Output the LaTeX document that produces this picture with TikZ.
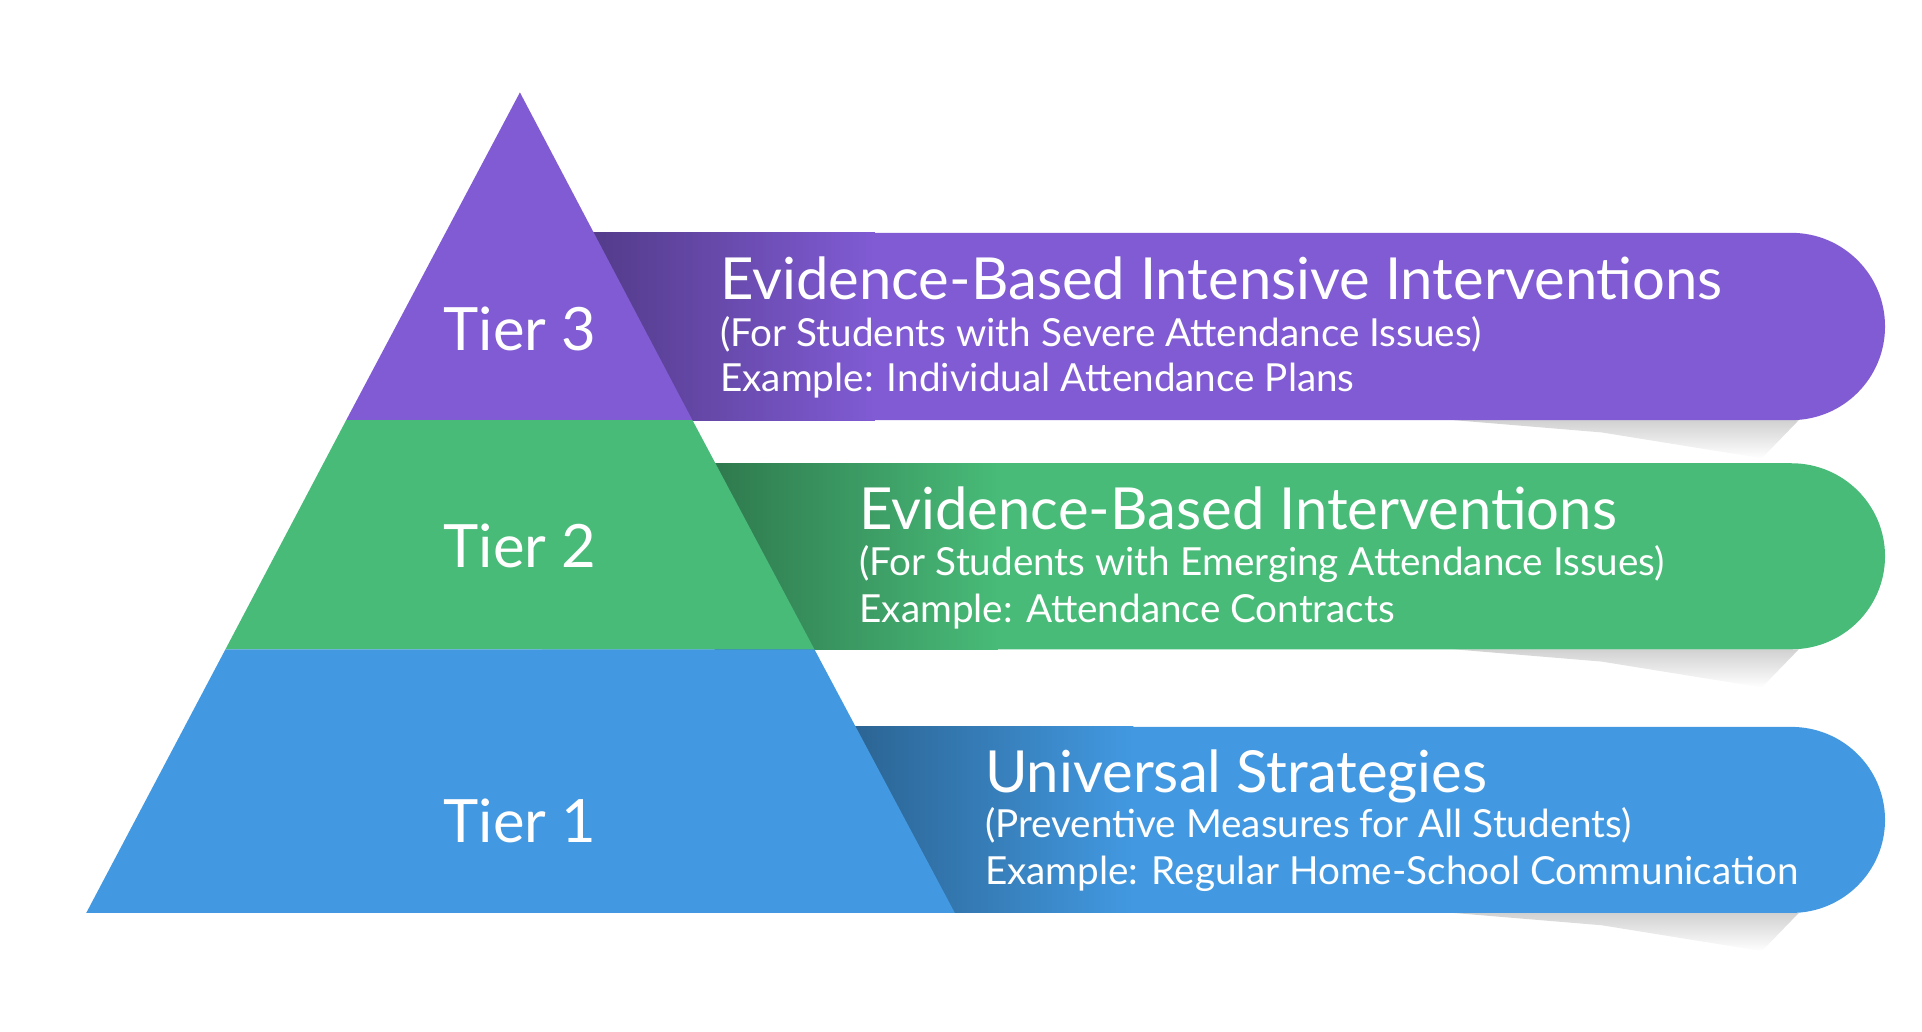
\documentclass[tikz,border=0pt]{standalone}
\usepackage{fontspec}
\setmainfont{Lato}
\usetikzlibrary{positioning}
\definecolor{tpurple}{HTML}{805BD4}
\definecolor{tgreen}{HTML}{48BB78}
\definecolor{tblue}{HTML}{4299E1}
\tikzset{
  tier/.style={text=white,font=\fontsize{17}{20}\selectfont,anchor=center},
  head/.style={text=white,font=\fontsize{16.5}{19}\selectfont,anchor=base west,inner sep=0pt},
  sub/.style={text=white,font=\fontsize{11}{13}\selectfont,anchor=base west,inner sep=0pt},
}
\begin{document}
\begin{tikzpicture}[x=0.1232mm,y=-0.1232mm]
        \useasboundingbox (0,0) rectangle (1560,837);
        % shadows
        \foreach \t/\b in {341/372,527/558,741/772}
        {
        \shade[top color=black!18,bottom color=white] (1180,\t) -- (1460,\t) -- (1430,\b) -- (1300,\t+10) -- cycle;
        }
        % bands
        \foreach \t/\b/\c/\g in {189/341/tpurple/480,376/527/tgreen/580,590/741/tblue/690}
        {
        \fill[\c] (440,\t) -- (1454,\t) arc[start angle=-90,end angle=90,x radius=76,y radius=\b/2-\t/2] -- (440,\b) -- cycle;
        \shade[left color=\c!65!black,right color=\c] (\g,\t) rectangle (\g+230,\b);
        }
        % pyramid
        \fill[tpurple] (422,75) -- (562,341) -- (281,341) -- cycle;
        \fill[tgreen] (281,341) -- (562,341) -- (661,527) -- (183,527) -- cycle;
        \fill[tblue] (183,527) -- (661,527) -- (775,741) -- (70,741) -- cycle;
        \node[tier] (t3) at (422,267) {Tier 3};
        \node[tier] (t2) at (422,443) {Tier 2};
        \node[tier] (t1) at (422,666) {Tier 1};
        % texts
        \node[head] (h3) at (584,243) {Evidence-Based Intensive Interventions};
        \node[sub] (s3) at (584,281) {(For Students with Severe Attendance Issues)};
        \node[sub] (e3) at (584,318) {Example: Individual Attendance Plans};
        \node[head] (h2) at (697,430) {Evidence-Based Interventions};
        \node[sub] (s2) at (697,467) {(For Students with Emerging Attendance Issues)};
        \node[sub] (e2) at (697,505) {Example: Attendance Contracts};
        \node[head] (h1) at (799,643) {Universal Strategies};
        \node[sub] (s1) at (799,680) {(Preventive Measures for All Students)};
        \node[sub] (e1) at (799,718) {Example: Regular Home-School Communication};
\end{tikzpicture}
\end{document}
